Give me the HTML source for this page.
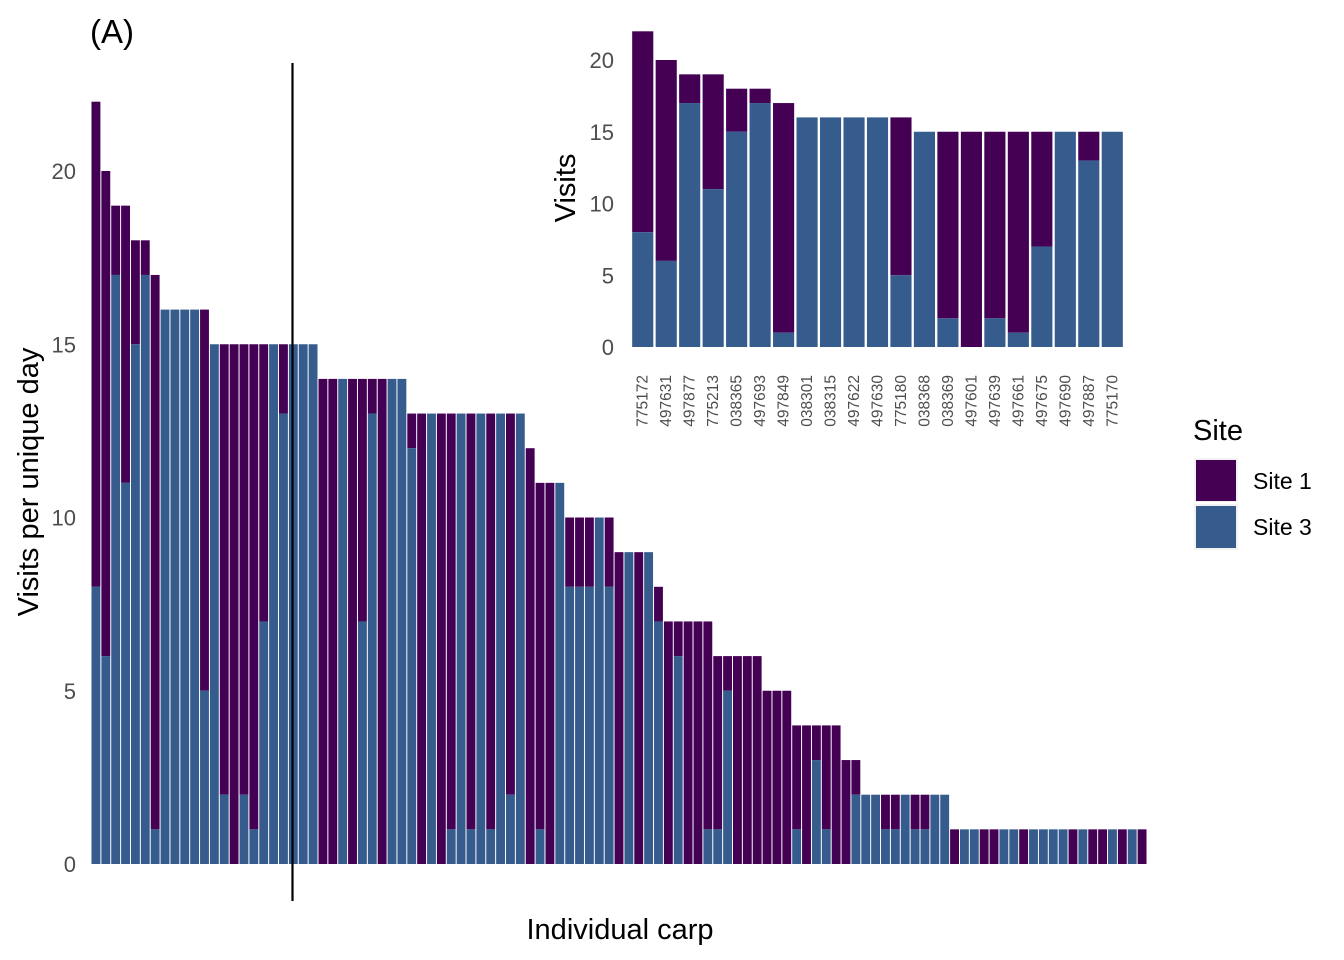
<!DOCTYPE html>
<html><head><meta charset="utf-8"><style>
html,body{margin:0;padding:0;background:#fff}
svg{display:block;font-family:"Liberation Sans",sans-serif}
</style></head><body>
<svg id="chart" width="1344" height="960" xmlns="http://www.w3.org/2000/svg">
<text x="90" y="43" font-size="33" fill="#000">(A)</text>
<text x="620" y="939" font-size="29" text-anchor="middle" fill="#000">Individual carp</text>
<text transform="translate(38,482) rotate(-90)" font-size="29" text-anchor="middle" fill="#000">Visits per unique day</text>
<text transform="translate(575,188) rotate(-90)" font-size="29" text-anchor="middle" fill="#000">Visits</text>
<g>
<text x="1193" y="440" font-size="29" fill="#000">Site</text>
<rect x="1194" y="458" width="44" height="44" fill="#f2f2f2"/>
<rect x="1196" y="460" width="40" height="41" fill="#440154"/>
<rect x="1194" y="504" width="44" height="46" fill="#f2f2f2"/>
<rect x="1196" y="506" width="40" height="42" fill="#365c8d"/>
<text x="1253" y="489" font-size="23" fill="#000">Site 1</text>
<text x="1253" y="535" font-size="23" fill="#000">Site 3</text>
</g>
<g id="main"></g>
<g id="inset"></g>
<line x1="292.5" y1="63" x2="292.5" y2="901" stroke="#000" stroke-width="2.2"/>
</svg>
<script>
const mainTotals = [22,20,19,19,18,18,17,16,16,16,16,16,15,15,15,15,15,15,15,15,15,15,15,
14,14,14,14,14,14,14,14,14,13,13,13,13,13,13,13,13,13,13,13,13,12,11,11,11,10,10,10,10,10,
9,9,9,9,8,7,7,7,7,7,6,6,6,6,6,5,5,5,4,4,4,4,4,3,3,2,2,2,2,2,2,2,2,2,
1,1,1,1,1,1,1,1,1,1,1,1,1,1,1,1,1,1,1,1];
const mainSite3 = [8,6,17,11,15,17,1,16,16,16,16,5,15,2,0,2,1,7,15,13,15,15,15,
0,0,14,0,7,13,0,14,14,12,0,13,0,1,13,1,13,1,13,2,13,0,1,0,11,8,8,8,10,8,
0,9,0,9,7,0,6,0,0,1,1,5,0,0,0,0,0,0,1,0,3,1,0,0,2,2,2,1,1,2,1,1,2,2,
0,1,1,0,0,1,1,0,1,1,1,1,0,1,0,0,1,0,1,0];
const mainTicks = [0,5,10,15,20];
const insetIds = ["775172","497631","497877","775213","038365","497693","497849","038301","038315","497622","497630","775180","038368","038369","497601","497639","497661","497675","497690","497887","775170"];
const insetTotals = [22,20,19,19,18,18,17,16,16,16,16,16,15,15,15,15,15,15,15,15,15];
const insetSite3 = [8,6,17,11,15,17,1,16,16,16,16,5,15,2,0,2,1,7,15,13,15];
const insetTicks = [0,5,10,15,20];

const NS="http://www.w3.org/2000/svg";
const P="#440154", B="#365c8d";
function mk(parent,tag,attrs){const e=document.createElementNS(NS,tag);for(const k in attrs)e.setAttribute(k,attrs[k]);parent.appendChild(e);return e;}

const mg=document.getElementById('main');
const mX0=91,mX1=1147,mY0=864,mUnit=(864-171)/20;
const mStep=(mX1-mX0)/mainTotals.length;
const my=v=>mY0-v*mUnit;
mainTicks.forEach(t=>{
  const e=mk(mg,'text',{x:76,y:my(t)+8,'font-size':22,'text-anchor':'end',fill:'#4d4d4d'});
  e.textContent=t;
  
  
});
mainTotals.forEach((tot,i)=>{
  const s3=mainSite3[i], x=mX0+i*mStep+mStep*0.05, w=mStep*0.9;
  const r1=mk(mg,'rect',{x:x,y:my(tot),width:w,height:(tot-s3)*mUnit,fill:P});
  
  
  if(s3>0){
    const r2=mk(mg,'rect',{x:x,y:my(s3),width:w,height:s3*mUnit,fill:B});
    
    
  }
});

const ig=document.getElementById('inset');
const iX0=631,iX1=1124,iY0=347,iUnit=(347-60)/20;
const iStep=(iX1-iX0)/insetTotals.length;
const iy=v=>iY0-v*iUnit;
insetTicks.forEach(t=>{
  const e=mk(ig,'text',{x:614,y:iy(t)+8,'font-size':22,'text-anchor':'end',fill:'#4d4d4d'});
  e.textContent=t;
  
  
});
insetTotals.forEach((tot,i)=>{
  const s3=insetSite3[i], x=iX0+i*iStep+iStep*0.05, w=iStep*0.9;
  const r1=mk(ig,'rect',{x:x,y:iy(tot),width:w,height:(tot-s3)*iUnit,fill:P});
  
  
  if(s3>0){
    const r2=mk(ig,'rect',{x:x,y:iy(s3),width:w,height:s3*iUnit,fill:B});
    
    
  }
  const cx=iX0+(i+0.5)*iStep+5;
  const l=mk(ig,'text',{transform:`translate(${cx},375) rotate(-90)`,'font-size':15.5,'text-anchor':'end',fill:'#4d4d4d'});
  l.textContent=insetIds[i];
  
  
});
</script>
</body></html>
